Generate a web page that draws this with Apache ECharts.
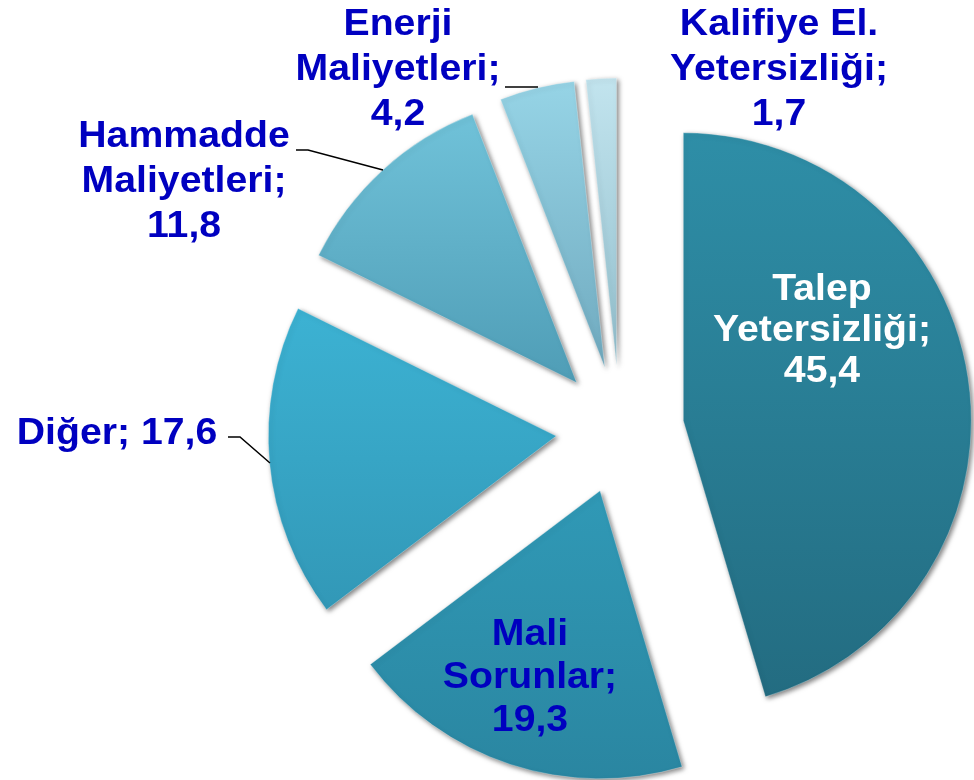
<!DOCTYPE html>
<html><head><meta charset="utf-8">
<script src="https://cdn.jsdelivr.net/npm/echarts@6/dist/echarts.min.js"></script>
<style>html,body{margin:0;padding:0;background:#fff}#c{width:974px;height:780px}</style>
</head><body><div id="c"></div>
<script>
const categories = ['Talep\nYetersizliği;', 'Mali\nSorunlar;', 'Diğer;', 'Hammadde\nMaliyetleri;', 'Enerji\nMaliyetleri;', 'Kalifiye El.\nYetersizliği;'];
const values = [45.4, 19.3, 17.6, 11.8, 4.2, 1.7];
const valueLabels = ['45,4', '19,3', '17,6', '11,8', '4,2', '1,7'];

// styling (kept apart from data)
const topColors = ['#2e8ea7', '#3099b6', '#3cb2d3', '#70c2d9', '#96d4e6', '#c2e4ee'];
const botColors = ['#236c81', '#2a86a1', '#3298b7', '#4f9db6', '#70aabf', '#92bfcd'];
const labelColors = ['#ffffff', '#0000C0', '#0000C0', '#0000C0', '#0000C0', '#0000C0'];
const singleLine = [false, false, true, false, false, false];
const labelPos = [[822, 331], [530, 678], [117, 434], [184, 182], [398, 70], [779, 70]];
const labelLH = [41, 43, 45, 45, 45, 45];
const linePts = [null, null, [[270, 463], [240, 437], [228, 437]], [[383, 170], [308, 150], [296, 150]], [[538, 87], [522, 87], [505, 87]], null];

const chart = echarts.init(document.getElementById('c'));
const data = values.map((v, i) => ({
  name: categories[i],
  value: v,
  selected: true,
  itemStyle: {
    color: new echarts.graphic.LinearGradient(0, 0, 0, 1, [
      {offset: 0, color: topColors[i]}, {offset: 1, color: botColors[i]}
    ])
  }
}));

const graphics = [];
categories.forEach((c, i) => {
  graphics.push({
    type: 'text',
    x: labelPos[i][0],
    y: labelPos[i][1],
    scaleX: 1.06,
    z: 100,
    style: {
      text: singleLine[i] ? (c + ' ' + valueLabels[i]) : (c + '\n' + valueLabels[i]),
      fill: labelColors[i],
      font: 'bold 37px "Liberation Sans", Arial, sans-serif',
      lineHeight: labelLH[i],
      textAlign: 'center',
      textVerticalAlign: 'middle',
      align: 'center',
      verticalAlign: 'middle'
    }
  });
  if (linePts[i]) {
    graphics.push({
      type: 'polyline',
      z: 100,
      shape: {points: linePts[i]},
      style: {stroke: '#000', lineWidth: 1.5, fill: null}
    });
  }
});

chart.setOption({
  animation: false,
  series: [{
    type: 'pie',
    center: [620, 430],
    radius: [0, 288],
    startAngle: 90,
    clockwise: true,
    selectedMode: 'multiple',
    selectedOffset: 64,
    itemStyle: {
      shadowColor: 'rgba(0,0,0,0.5)',
      shadowBlur: 5,
      shadowOffsetX: 2,
      shadowOffsetY: 2,
      borderColor: 'rgba(255,255,255,0.3)',
      borderWidth: 1
    },
    emphasis: {disabled: true},
    label: {show: false},
    labelLine: {show: false},
    data: data
  }],
  graphic: graphics
});
</script></body></html>
